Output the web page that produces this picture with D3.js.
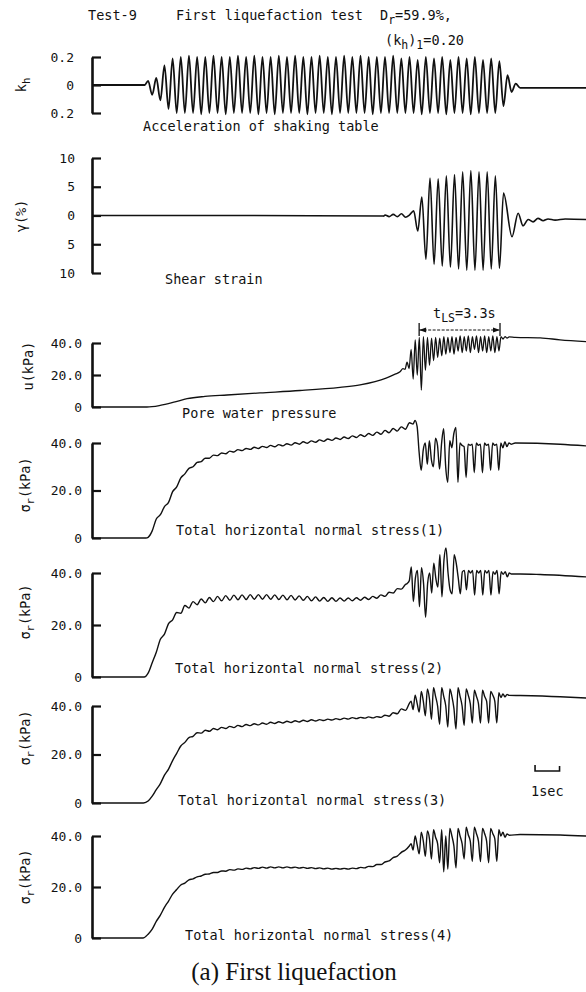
<!DOCTYPE html>
<html>
<head>
<meta charset="utf-8">
<title>Test-9 First liquefaction test</title>
<script src="https://cdn.jsdelivr.net/npm/d3@7"></script>
<style>
    body { margin: 0; background: #fff; }
    svg { display: block; }
    .label { font-family: "DejaVu Sans Mono", "Liberation Mono", monospace; font-size: 13.5px; fill: #111; }
    .axis text { font-family: "DejaVu Sans Mono", "Liberation Mono", monospace; font-size: 13px; fill: #111; }
    .axis path.domain { stroke: #111; stroke-width: 2.6; }
    .axis .tick line { stroke: #111; stroke-width: 2.2; }
    .trace { fill: none; stroke: #111; stroke-linejoin: round; }
    .caption { font-family: "Liberation Serif", "DejaVu Serif", serif; font-size: 25px; fill: #111; }
</style>
</head>
<body>
<script>
//Values. Time in seconds, shaking at 3 Hz.
var shakeStart = 2.29;      //first half cycle of shaking
var halfCycle = 1 / 6;
var quarterCycle = 1 / 12;
var tlsStart = 13.35, tlsLength = 3.3;   //t_LS bracket
var barStart = 18.08;                    //1 sec scale bar

//kh, acceleration of shaking table (one value per half cycle)
var khHeadT = [0, 2.15], khHeadV = [0, 0];
var khWave = [0.03, -0.07, 0.05, -0.11, 0.14, -0.17, 0.19, -0.2, 0.2, -0.2,
    0.21, -0.2, 0.2, -0.21, 0.2, -0.2, 0.21, -0.2, 0.2, -0.21,
    0.2, -0.2, 0.21, -0.2, 0.2, -0.2, 0.21, -0.21, 0.2, -0.2,
    0.2, -0.21, 0.21, -0.2, 0.2, -0.2, 0.21, -0.2, 0.2, -0.21,
    0.2, -0.2, 0.21, -0.2, 0.2, -0.21, 0.2, -0.2, 0.21, -0.2,
    0.2, -0.2, 0.21, -0.2, 0.2, -0.21, 0.2, -0.2, 0.2, -0.2,
    0.21, -0.2, 0.19, -0.2, 0.2, -0.2, 0.18, -0.21, 0.2, -0.2,
    0.19, -0.2, 0.2, -0.21, 0.18, -0.2, 0.2, -0.2, 0.19, -0.21,
    0.2, -0.2, 0.18, -0.2, 0.19, -0.2, 0.17, -0.15, 0.07, -0.05,
    0.01];
var khTailT = [17.47, 20.16], khTailV = [-0.02, -0.02];

//shear strain (%)
var strainHeadT = [0, 6, 11.9], strainHeadV = [0, 0, -0.1];
var strainWaveStart = 11.96;
var strainWave = [0.1, -0.2, 0.2, -0.2, 0.3, -0.3, 0.1, 0.8, -2.7, 3.2,
    -7.6, 6.5, -8.5, 6.4, -8.8, 6.9, -9.0, 7.1, -9.3, 7.6,
    -9.5, 7.8, -9.5, 7.6, -9.5, 7.6, -9.3, 6.9, -9.2, 3.9];
var strainTailT = [17.14, 17.39, 17.59, 17.80, 18.0, 18.2, 18.41, 18.61, 18.9, 19.31, 20.16];
var strainTailV = [-3.7, 0.4, -1.8, -0.7, -1.1, -0.5, -0.9, -0.6, -0.8, -0.6, -0.7];

//pore water pressure (kPa)
var uHeadT = [0, 2.24, 2.78, 3.39, 3.88, 4.61, 5.51, 6.86, 8.49, 10.12, 10.94, 11.55, 12.0, 12.37, 12.57];
var uHeadV = [0, 0, 1.0, 3.2, 5.2, 6.6, 7.5, 8.8, 10.3, 12.3, 13.8, 15.8, 18, 20.5, 22];
var uSpikeStart = 12.69;
var uSpikes = [24, 23.5, 28, 24, 36, 17.5, 42, 20, 43.5, 10.5,
    44, 23, 43.5, 26, 43, 29, 43.5, 31, 43, 32,
    44, 33, 43.5, 34, 44, 33, 43.5, 35, 44.5, 34,
    44, 35, 44.5, 34, 44, 36, 44.5, 34, 44, 35,
    44.5, 34, 44, 35, 44.5, 34, 44, 35, 44, 42.5,
    44, 43, 43.8];
var uTailT = [17.27, 18.29, 19.1, 20.16], uTailV = [43.5, 43.2, 42, 40.8];

//total horizontal normal stress (1), kPa
var s1HeadT = [0, 2.2], s1HeadV = [0, 0];
var s1Ripple = [0.3, 3.0, 8.0, 9.8, 13.2, 15.0, 19.5, 21.5, 25.3, 27.0,
    29.3, 30.0, 31.8, 32.2, 33.6, 33.6, 34.9, 34.7, 35.8, 35.5,
    36.6, 36.2, 37.2, 36.8, 37.7, 37.3, 38.2, 37.7, 38.6, 38.1,
    39.0, 38.4, 39.3, 38.8, 39.7, 39.1, 40.1, 39.5, 40.5, 39.9,
    40.9, 40.3, 41.3, 40.7, 41.7, 41.1, 42.1, 41.5, 42.5, 41.9,
    43.0, 42.3, 43.5, 42.7, 44.0, 43.2, 44.6, 43.7, 45.3, 44.3,
    46.1, 45.0, 46.8, 45.8, 48.5];
var s1SpikeStart = 13.10;
var s1Spikes = [48, 49.5, 47, 36, 28.5, 37, 40, 31, 41, 33,
    30, 42, 39, 29, 40, 46, 30, 23.5, 41, 38,
    44, 46.5, 23.5, 40, 39, 38.5, 25.5, 39.5, 39, 39.5,
    27.5, 40, 39, 39.5, 27.5, 40, 39, 39.5, 28.5, 40,
    39, 39.5, 28.5, 40, 38, 40.5, 38.5, 40, 39.5];
var s1TailT = [17.27, 19.1, 20.16], s1TailV = [40, 39.5, 38.8];

//total horizontal normal stress (2), kPa
var s2HeadT = [0, 2.13], s2HeadV = [0, 0];
var s2Ripple = [1.5, 5.5, 9.5, 14.5, 16.5, 20.5, 22, 24.8, 24.5, 27.5,
    26.5, 29, 27.8, 30, 28.5, 30.6, 29, 31, 29.3, 31.3,
    29.5, 31.5, 29.7, 31.6, 29.8, 31.7, 29.9, 31.7, 29.9, 31.7,
    29.9, 31.6, 29.8, 31.5, 29.7, 31.4, 29.6, 31.2, 29.5, 31,
    29.3, 30.8, 29.2, 30.6, 29.1, 30.5, 29.1, 30.4, 29.2, 30.4,
    29.3, 30.5, 29.5, 30.7, 29.8, 31.0, 30.3, 31.6, 31.0, 32.6,
    32.3, 34.0, 33.8];
var s2SpikeStart = 12.78;
var s2Spikes = [35.5, 36, 37, 42.3, 29, 38, 41, 27, 42, 36,
    23, 36, 40, 32.3, 43.8, 38, 34.6, 47, 30.8, 45,
    49.6, 40, 33.5, 32, 47, 43.8, 38, 32, 40.4, 41,
    33.5, 41, 40, 41, 31.5, 41, 40, 41, 31.5, 41,
    40, 41, 31.5, 40.5, 39.5, 41, 32, 40.5, 39.5, 40.5,
    38.5, 40, 39.6];
var s2TailT = [17.47, 18.29, 20.16], s2TailV = [39.6, 39.4, 38.5];

//total horizontal normal stress (3), kPa
var s3HeadT = [0, 2.1], s3HeadV = [0, 0];
var s3Ripple = [0.8, 2.8, 5.5, 8, 11.5, 14, 17.5, 20.5, 23.5, 25,
    27, 27.5, 29, 28.8, 30, 29.6, 30.7, 30.2, 31.2, 30.7,
    31.6, 31.1, 32, 31.5, 32.4, 31.9, 32.7, 32.2, 33.0, 32.5,
    33.3, 32.8, 33.5, 33.0, 33.7, 33.2, 33.9, 33.4, 34.1, 33.6,
    34.3, 33.8, 34.4, 34.0, 34.6, 34.2, 34.8, 34.4, 35.0, 34.6,
    35.2, 34.8, 35.3, 35.0, 35.5, 35.1, 35.6, 35.3, 36.2, 35.8,
    37.2, 36.8, 38.8, 38.2, 41.2];
var s3SpikeStart = 13.02;
var s3Spikes = [42, 38.5, 44.5, 41, 37.5, 46, 42, 36, 47, 43,
    34.5, 47.5, 44, 40, 32.5, 47.5, 44, 40, 31.3, 47,
    44, 39, 30.5, 47.5, 44, 40, 32, 47, 44.5, 41,
    33, 46.5, 44, 41, 33, 46.5, 44, 42, 33, 46,
    44.5, 42, 33, 45.5, 43.5, 45, 43.8, 44.8, 44.4];
var s3TailT = [17.47, 19.1, 20.16], s3TailV = [44.3, 43.8, 43.3];

//total horizontal normal stress (4), kPa
var s4HeadT = [0, 2.08], s4HeadV = [0, 0];
var s4Ripple = [1.5, 3.5, 6.5, 9, 12, 14.5, 17.2, 19, 20.8, 21.5,
    22.8, 23.2, 24, 24.3, 25, 25.1, 25.7, 25.7, 26.3, 26.2,
    26.8, 26.6, 27.1, 26.9, 27.4, 27.1, 27.6, 27.3, 27.8, 27.4,
    27.9, 27.5, 27.9, 27.5, 27.9, 27.5, 27.8, 27.4, 27.7, 27.3,
    27.6, 27.2, 27.5, 27.1, 27.4, 27.0, 27.3, 27.0, 27.3, 27.0,
    27.4, 27.2, 27.7, 27.5, 28.1, 28.0, 28.8, 28.8, 29.8, 30.2,
    31.5, 32.1, 33.6, 34.5, 36.2];
var s4SpikeStart = 13.02;
var s4Spikes = [37, 34.5, 40, 36.5, 33, 41.5, 38, 32, 42, 39,
    31, 42.5, 39.5, 37, 29.5, 42.5, 26, 40, 27, 43,
    40, 36, 27.5, 43, 40, 37, 31, 43.5, 40.5, 38,
    30, 43.5, 41, 38, 30, 43, 41, 38, 29.5, 43,
    41, 39, 30, 42.5, 40, 41.5, 39.5, 40.8, 40.3];
var s4TailT = [17.47, 19.1, 20.16], s4TailV = [40.6, 40.4, 40];

//tick values and labels
var khTicks = [-0.2, 0, 0.2];
var strainTicks = [-10, -5, 0, 5, 10];
var kpaTicks = [0, 20, 40];

(function() {

    var width = 586, height = 992;
    var monoFont = "'DejaVu Sans Mono', 'Liberation Mono', monospace";

    //pair up time and value arrays
    function pairs(ts, vs) {
        return ts.map(function(t, i) { return [t, vs[i]]; });
    }
    //values sampled on the shaking cycle
    function onCycle(start, step, vs) {
        return vs.map(function(v, i) { return [start + i * step, v]; });
    }

    var absFmt = function(d) { return d === 0 ? "0" : Math.abs(d).toFixed(1); };
    var intFmt = function(d) { return String(Math.abs(d)); };
    var kpaFmt = function(d) { return d === 0 ? "0" : d.toFixed(1); };

    var sigma = [["σ"], ["r", 1], ["(kPa)"]];

    var panels = [
        { top: 57, bottom: 113, domain: [-0.2, 0.2], ticks: khTicks, fmt: absFmt, pad: 18, stroke: 1.8,
          ylab: [["k"], ["h", 1]], labX: 26, labY: 85,
          title: "Acceleration of shaking table", titleX: 143, titleY: 131,
          data: [].concat(pairs(khHeadT, khHeadV), onCycle(shakeStart, halfCycle, khWave), pairs(khTailT, khTailV)) },
        { top: 158, bottom: 273, domain: [-10, 10], ticks: strainTicks, fmt: intFmt, pad: 17, stroke: 1.6,
          ylab: [["γ(%)"]], labX: 26, labY: 216,
          title: "Shear strain", titleX: 165, titleY: 284,
          data: [].concat(pairs(strainHeadT, strainHeadV), onCycle(strainWaveStart, halfCycle, strainWave), pairs(strainTailT, strainTailV)) },
        { top: 343, bottom: 407, domain: [0, 40], ticks: kpaTicks, fmt: kpaFmt, pad: 10, stroke: 1.3,
          ylab: [["u(kPa)"]], labX: 33, labY: 366,
          title: "Pore water pressure", titleX: 182, titleY: 418,
          data: [].concat(pairs(uHeadT, uHeadV), onCycle(uSpikeStart, quarterCycle, uSpikes), pairs(uTailT, uTailV)) },
        { top: 443, bottom: 538, domain: [0, 40], ticks: kpaTicks, fmt: kpaFmt, pad: 10, stroke: 1.4,
          ylab: sigma, labX: 30, labY: 485,
          title: "Total horizontal normal stress(1)", titleX: 176, titleY: 535,
          data: [].concat(pairs(s1HeadT, s1HeadV), onCycle(shakeStart, halfCycle, s1Ripple), onCycle(s1SpikeStart, quarterCycle, s1Spikes), pairs(s1TailT, s1TailV)) },
        { top: 573, bottom: 677, domain: [0, 40], ticks: kpaTicks, fmt: kpaFmt, pad: 10, stroke: 1.4,
          ylab: sigma, labX: 30, labY: 612,
          title: "Total horizontal normal stress(2)", titleX: 175, titleY: 673,
          data: [].concat(pairs(s2HeadT, s2HeadV), onCycle(shakeStart, halfCycle, s2Ripple), onCycle(s2SpikeStart, quarterCycle, s2Spikes), pairs(s2TailT, s2TailV)) },
        { top: 706, bottom: 803, domain: [0, 40], ticks: kpaTicks, fmt: kpaFmt, pad: 10, stroke: 1.4,
          ylab: sigma, labX: 30, labY: 738,
          title: "Total horizontal normal stress(3)", titleX: 178, titleY: 805,
          data: [].concat(pairs(s3HeadT, s3HeadV), onCycle(shakeStart, halfCycle, s3Ripple), onCycle(s3SpikeStart, quarterCycle, s3Spikes), pairs(s3TailT, s3TailV)) },
        { top: 836, bottom: 938, domain: [0, 40], ticks: kpaTicks, fmt: kpaFmt, pad: 10, stroke: 1.4,
          ylab: sigma, labX: 30, labY: 877,
          title: "Total horizontal normal stress(4)", titleX: 185, titleY: 940,
          data: [].concat(pairs(s4HeadT, s4HeadV), onCycle(shakeStart, halfCycle, s4Ripple), onCycle(s4SpikeStart, quarterCycle, s4Spikes), pairs(s4TailT, s4TailV)) }
    ];

    //shared time scale, about 24.5 px per second
    var x = d3.scaleLinear()
        .domain([0, 20.2])
        .range([92, 587]);

    var svg = d3.select("body")
        .append("svg")
        .attr("width", width)
        .attr("height", height);

    svg.append("rect")
        .attr("width", width)
        .attr("height", height)
        .attr("fill", "#fff");

    //write text made of normal and subscript pieces
    function richText(sel, parts, subSize) {
        var shifted = false;
        parts.forEach(function(p) {
            var sub = !!p[1];
            var dy = sub && !shifted ? 4 : (!sub && shifted ? -4 : 0);
            var ts = sel.append("tspan").attr("dy", dy).text(p[0]);
            if (sub) ts.style("font-size", subSize + "px");
            shifted = sub;
        });
        return sel;
    }

    //header
    var header = [
        { parts: [["Test-9"]], x: 88, y: 20 },
        { parts: [["First liquefaction test"]], x: 176, y: 20 },
        { parts: [["D"], ["r", 1], ["=59.9%,"]], x: 380, y: 20 },
        { parts: [["(k"], ["h", 1], [")"], ["1", 1], ["=0.20"]], x: 385, y: 45 }
    ];
    header.forEach(function(h) {
        richText(svg.append("text").attr("class", "label").attr("x", h.x).attr("y", h.y), h.parts, 11.5);
    });

    //panels
    panels.forEach(function(p) {
        var y = d3.scaleLinear()
            .domain(p.domain)
            .range([p.bottom, p.top]);

        var yAxis = d3.axisLeft(y)
            .tickValues(p.ticks)
            .tickFormat(p.fmt)
            .tickSizeInner(-9)
            .tickSizeOuter(0)
            .tickPadding(p.pad);

        var axis = svg.append("g")
            .attr("class", "axis")
            .attr("transform", "translate(" + x.range()[0] + ",0)")
            .call(yAxis);
        axis.attr("font-family", monoFont).attr("font-size", 13);

        var line = d3.line()
            .x(function(d) { return x(d[0]); })
            .y(function(d) { return y(d[1]); })
            .curve(d3.curveMonotoneX);

        svg.append("path")
            .datum(p.data)
            .attr("class", "trace")
            .attr("stroke-width", p.stroke)
            .attr("d", line);

        richText(svg.append("text")
            .attr("class", "label")
            .attr("text-anchor", "middle")
            .attr("transform", "translate(" + p.labX + "," + p.labY + ") rotate(-90)")
            .attr("dy", "0.35em"), p.ylab, 10.5);

        svg.append("text")
            .attr("class", "label")
            .attr("x", p.titleX)
            .attr("y", p.titleY)
            .text(p.title);
    });

    //t_LS bracket over the pore pressure record
    var x1 = x(tlsStart), x2 = x(tlsStart + tlsLength), ly = 330;
    var tls = svg.append("g").attr("stroke", "#111").attr("fill", "#111");
    tls.append("line")
        .attr("x1", x1).attr("x2", x2).attr("y1", ly).attr("y2", ly)
        .attr("stroke-width", 1).attr("stroke-dasharray", "3,1.5");
    [x1, x2].forEach(function(xx) {
        tls.append("line").attr("x1", xx).attr("x2", xx).attr("y1", ly - 7).attr("y2", ly + 6).attr("stroke-width", 1.3);
    });
    tls.append("path").attr("stroke", "none")
        .attr("d", "M" + (x1 + 7) + "," + (ly - 2.5) + "L" + x1 + "," + ly + "L" + (x1 + 7) + "," + (ly + 2.5) + "Z");
    tls.append("path").attr("stroke", "none")
        .attr("d", "M" + (x2 - 7) + "," + (ly - 2.5) + "L" + x2 + "," + ly + "L" + (x2 - 7) + "," + (ly + 2.5) + "Z");
    richText(svg.append("text").attr("class", "label").attr("x", 433).attr("y", 318),
        [["t"], ["LS", 1], ["=3.3s"]], 11.5);

    //1 sec scale bar
    var b1 = x(barStart), b2 = x(barStart + 1);
    svg.append("path")
        .attr("d", "M" + b1 + ",765V771H" + b2 + "V766")
        .attr("fill", "none")
        .attr("stroke", "#111")
        .attr("stroke-width", 1.6);
    svg.append("text")
        .attr("class", "label")
        .attr("x", (b1 + b2) / 2)
        .attr("y", 796)
        .attr("text-anchor", "middle")
        .text("1sec");

    //caption
    svg.append("text")
        .attr("class", "caption")
        .attr("x", 294)
        .attr("y", 980)
        .attr("text-anchor", "middle")
        .text("(a) First liquefaction");

})();
</script>
</body>
</html>
